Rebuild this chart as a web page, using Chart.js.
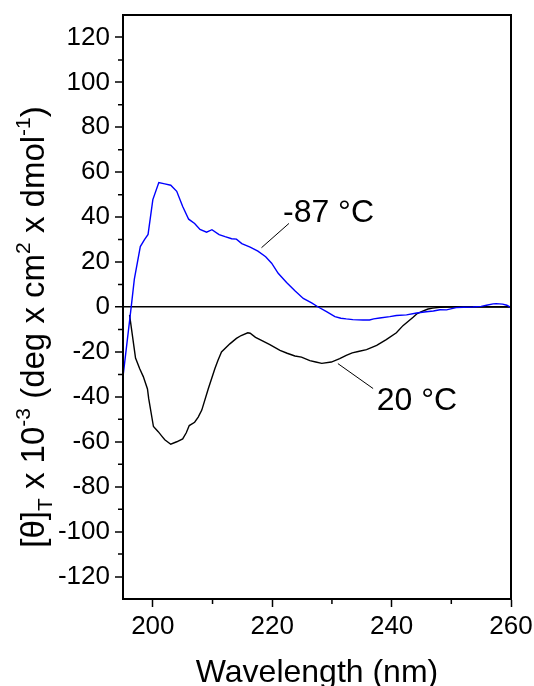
<!DOCTYPE html>
<html>
<head>
<meta charset="utf-8">
<script src="https://cdn.jsdelivr.net/npm/chart.js@4.4.1/dist/chart.umd.min.js"></script>
<style>
  html, body { margin: 0; padding: 0; background: #fff; }
  #wrap { width: 534px; height: 686px; }
</style>
</head>
<body>
<div id="wrap"><canvas id="cd"></canvas></div>
<script>
// -87 °C (blue)
const wlCold = [195.0, 196.4, 196.9, 197.9, 198.6, 199.2, 200.0, 201.0, 202.0, 203.0, 204.0, 205.0,
  206.0, 207.0, 207.9, 209.0, 209.9, 211.1, 212.1, 213.2, 214.0, 214.9, 216.3, 217.6, 218.9, 219.9,
  221.0, 222.4, 223.8, 225.2, 226.6, 227.7, 229.1, 230.5, 231.5, 232.4, 233.5, 235.2, 236.3, 237.0,
  238.0, 239.7, 240.8, 242.5, 244.2, 245.8, 247.0, 248.1, 249.2, 250.8, 252.0, 253.6, 255.0, 255.9,
  257.0, 257.5, 258.6, 259.3, 260.0];
const thetaCold = [-31, 0.6, 12.4, 26.9, 30, 32.3, 47.8, 55.4, 54.8, 54.2, 51.5, 44.7,
  39.1, 37.2, 34.5, 33.3, 34.4, 32.2, 31.3, 30.4, 30.2, 28.2, 26.7, 24.9, 22.4, 19.5,
  15.0, 10.9, 7.2, 3.8, 1.8, 0, -2.1, -4.3, -5.0, -5.3, -5.6, -5.8, -5.8, -5.3,
  -4.9, -4.3, -3.8, -3.5, -2.7, -2.1, -1.8, -1.2, -1.3, -0.3, -0.1, 0, 0.3, 0.8,
  1.4, 1.5, 1.3, 0.8, -0.3];

// 20 °C (black)
const wlWarm = [196.1, 197.1, 197.8, 198.4, 199.1, 199.3, 200.1, 200.9, 201.5, 202.0, 203.0, 204.0,
  205.0, 205.6, 206.1, 207.0, 207.6, 208.2, 209.3, 210.4, 210.9, 211.5, 212.9, 214.0, 214.8, 215.9,
  216.3, 217.2, 218.2, 219.6, 221.3, 222.5, 223.8, 224.9, 226.3, 227.3, 228.3, 229.9, 231.3, 232.4,
  233.4, 234.4, 235.8, 237.5, 239.1, 240.8, 241.9, 243.6, 244.2, 245.0, 246.1, 246.9, 248.1, 250.0,
  255.0, 260.0];
const thetaWarm = [-3.5, -22.7, -27.5, -31, -36.5, -40.7, -53.2, -55.5, -57.5, -59.1, -61.1, -60,
  -58.7, -56, -52.8, -51.3, -49, -45.9, -36.3, -27.4, -23.8, -20, -16.4, -14, -12.7, -11.5,
  -11.7, -13.5, -14.9, -16.8, -19.3, -20.6, -21.8, -22.3, -23.9, -24.5, -25.1, -24.5, -23, -21.5,
  -20.4, -19.8, -19, -17.1, -14.5, -11.5, -8.3, -4.6, -3.1, -2.1, -0.9, -0.5, -0.1, 0,
  0, 0];

const xTickValues = [200, 220, 240, 260];
const xMinorValues = [210, 230, 250];
const yTickValues = [-120, -100, -80, -60, -40, -20, 0, 20, 40, 60, 80, 100, 120];
const yMinorValues = [-110, -90, -70, -50, -30, -10, 10, 30, 50, 70, 90, 110];

const seriesLabels = ['-87 °C', '20 °C'];
// label anchor: [line start x, y, line end x, y, text x, text y]
const labelCold = [218.2, 26.4, 222.8, 37.2, 221.8, 38];
const labelWarm = [231.0, -25.2, 236.9, -36.3, 237.5, -45.9];

const FONT = '"Liberation Sans", Arial, Helvetica, sans-serif';

function pts(xs, ys) { return xs.map((v, i) => ({ x: v, y: ys[i] })); }

const decor = {
  id: 'decor',
  afterDraw(chart) {
    const { ctx, chartArea: a, scales: { x, y } } = chart;
    ctx.save();
    // frame
    ctx.strokeStyle = '#000';
    ctx.lineWidth = 2;
    ctx.strokeRect(a.left, a.top, a.right - a.left, a.bottom - a.top);
    // minor ticks
    ctx.lineWidth = 1.5;
    ctx.beginPath();
    xMinorValues.forEach(v => {
      const p = x.getPixelForValue(v);
      ctx.moveTo(p, a.bottom); ctx.lineTo(p, a.bottom + 5);
    });
    yMinorValues.forEach(v => {
      const p = y.getPixelForValue(v);
      ctx.moveTo(a.left, p); ctx.lineTo(a.left - 5, p);
    });
    ctx.stroke();

    // series labels with leader lines
    ctx.lineWidth = 1;
    ctx.fillStyle = '#000';
    ctx.font = '32px ' + FONT;
    ctx.textBaseline = 'alphabetic';
    ctx.textAlign = 'left';
    [[labelCold, seriesLabels[0]], [labelWarm, seriesLabels[1]]].forEach(([l, txt]) => {
      ctx.beginPath();
      ctx.moveTo(x.getPixelForValue(l[0]), y.getPixelForValue(l[1]));
      ctx.lineTo(x.getPixelForValue(l[2]), y.getPixelForValue(l[3]));
      ctx.stroke();
      ctx.fillText(txt, x.getPixelForValue(l[4]), y.getPixelForValue(l[5]));
    });

    // x title
    ctx.font = '32px ' + FONT;
    ctx.textAlign = 'center';
    ctx.fillText('Wavelength (nm)', (a.left + a.right) / 2, 682);

    // y title with sub/superscripts
    const big = 33, small = 21;
    const parts = [
      ['[θ]', 0, big], ['T', 1, small], [' x 10', 0, big], ['-3', -1, small],
      [' (deg x cm', 0, big], ['2', -1, small], [' x dmol', 0, big], ['-1', -1, small], [')', 0, big]
    ];
    let total = 0;
    parts.forEach(p => { ctx.font = p[2] + 'px ' + FONT; p.push(ctx.measureText(p[0]).width); total += p[3]; });
    ctx.translate(44, 327);
    ctx.rotate(-Math.PI / 2);
    ctx.textAlign = 'left';
    let cx = -total / 2;
    parts.forEach(p => {
      ctx.font = p[2] + 'px ' + FONT;
      const dy = p[1] === 1 ? 8 : (p[1] === -1 ? -14 : 0);
      ctx.fillText(p[0], cx, dy);
      cx += p[3];
    });
    ctx.restore();
  }
};

new Chart(document.getElementById('cd'), {
  type: 'line',
  data: {
    datasets: [
      { label: seriesLabels[0], data: pts(wlCold, thetaCold), borderColor: '#0000ff', borderWidth: 1.4,
        pointRadius: 0, tension: 0, fill: false },
      { label: seriesLabels[1], data: pts(wlWarm, thetaWarm), borderColor: '#000000', borderWidth: 1.4,
        pointRadius: 0, tension: 0, fill: false }
    ]
  },
  options: {
    responsive: true,
    maintainAspectRatio: false,
    animation: false,
    devicePixelRatio: 1,
    layout: { padding: { top: 15, right: 23, left: 0, bottom: 0 } },
    plugins: { legend: { display: false }, tooltip: { enabled: false } },
    scales: {
      x: {
        type: 'linear', min: 195, max: 260,
        afterFit: s => { s.height = 87; s.paddingLeft = 0; s.paddingRight = 0; },
        afterBuildTicks: s => { s.ticks = xTickValues.map(v => ({ value: v })); },
        ticks: { color: '#000', font: { family: FONT, size: 26 }, padding: 4, maxRotation: 0 },
        grid: { drawOnChartArea: false, tickLength: 8, tickColor: '#000', tickWidth: 1.5 },
        border: { display: true, color: '#000', width: 2 }
      },
      y: {
        type: 'linear', min: -130, max: 130,
        afterFit: s => { s.width = 123; s.paddingTop = 0; s.paddingBottom = 0; },
        afterBuildTicks: s => { s.ticks = yTickValues.map(v => ({ value: v })); },
        ticks: { color: '#000', font: { family: FONT, size: 26 }, padding: 5 },
        grid: {
          drawOnChartArea: true, tickLength: 8, tickColor: '#000', tickWidth: 1.5,
          color: c => (c.tick && c.tick.value === 0 ? '#000' : 'rgba(0,0,0,0)'),
          lineWidth: c => (c.tick && c.tick.value === 0 ? 1.5 : 0)
        },
        border: { display: true, color: '#000', width: 2 }
      }
    }
  },
  plugins: [decor]
});
</script>
</body>
</html>
